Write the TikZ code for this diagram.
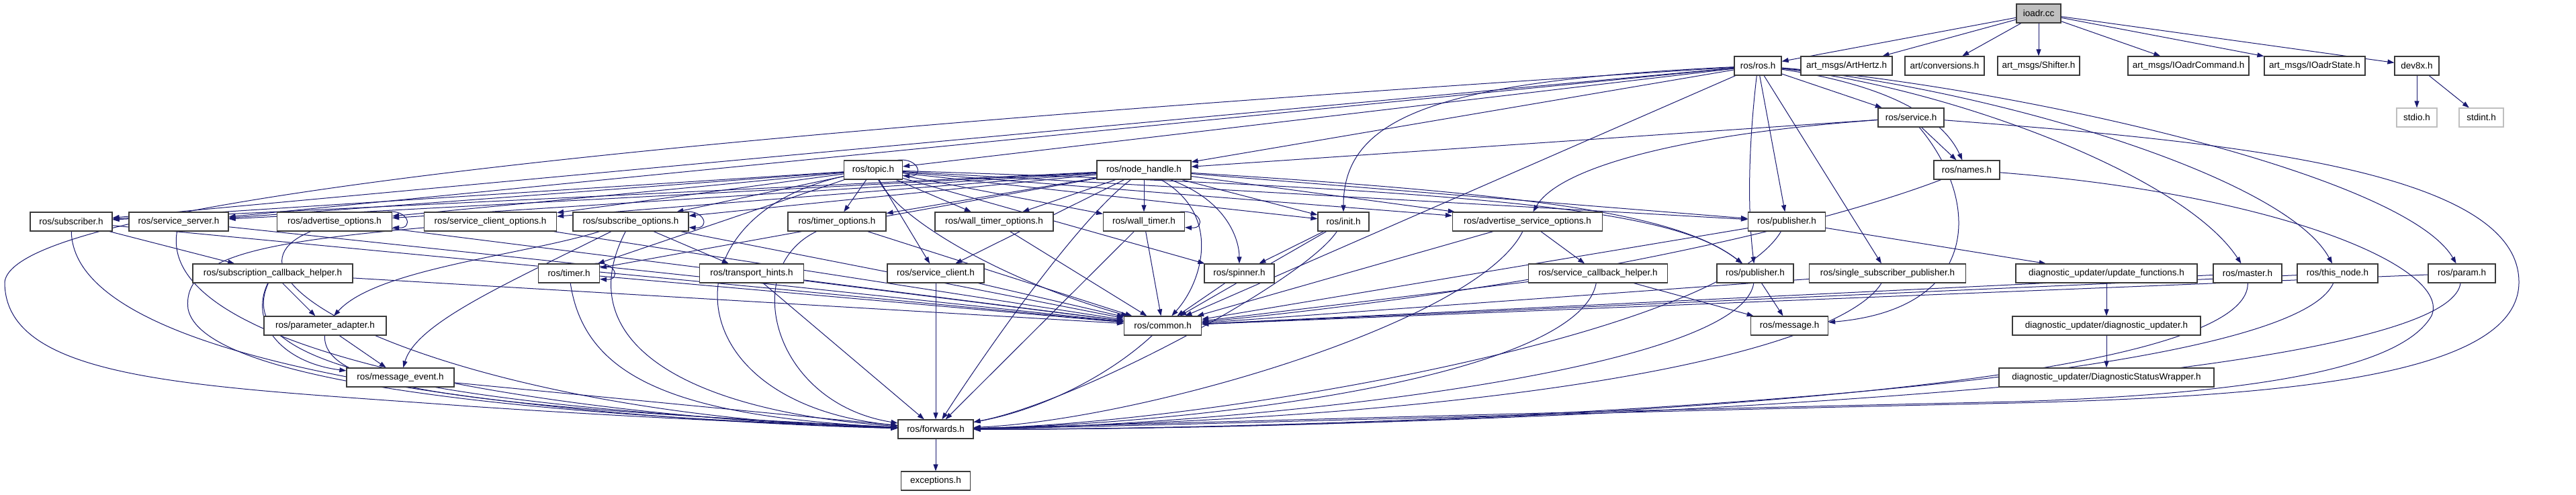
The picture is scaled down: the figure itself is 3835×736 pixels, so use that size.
\documentclass[tikz,border=0pt]{standalone}
\usepackage{fontspec}
\setmainfont{Liberation Sans}
\usetikzlibrary{arrows.meta}
\definecolor{edgec}{HTML}{191970}
\definecolor{bordc}{HTML}{3A3A3A}
\definecolor{titlec}{HTML}{BFBFBF}
\pgfdeclarelayer{bg}
\pgfsetlayers{bg,main}
\newcommand{\nfont}{\fontsize{13.5pt}{15pt}\selectfont}
\newcommand{\selfloop}[1]{\draw[edg] ([xshift=-8pt]#1.north east) .. controls +(32pt,4pt) and +(32pt,-2pt) .. ([yshift=6pt]#1.south east);}
\begin{document}
\begin{tikzpicture}[x=1pt,y=-1pt,
  nd/.style={draw=bordc, fill=white, line width=1.2pt, minimum height=28pt, inner sep=0pt, font=\nfont, text=black},
  edg/.style={draw=edgec, line width=1pt, -{Triangle[length=10pt,width=7pt]}}]
\useasboundingbox (0,0) rectangle (3835,736);
% nodes
\node[nd,minimum width=66pt,fill=titlec] (io) at (3035,20) {ioadr.cc};
\node[nd,minimum width=70pt] (ros) at (2617,98) {ros/ros.h};
\node[nd,minimum width=136pt] (arth) at (2749,98) {art\_msgs/ArtHertz.h};
\node[nd,minimum width=118pt] (conv) at (2895,98) {art/conversions.h};
\node[nd,minimum width=122pt] (shift) at (3035,98) {art\_msgs/Shifter.h};
\node[nd,minimum width=180pt] (iocmd) at (3258,98) {art\_msgs/IOadrCommand.h};
\node[nd,minimum width=150pt] (iost) at (3446,98) {art\_msgs/IOadrState.h};
\node[nd,minimum width=66pt] (dev) at (3598,98) {dev8x.h};
\node[nd,minimum width=98pt] (service) at (2845,175) {ros/service.h};
\node[nd,minimum width=60pt,draw=titlec] (stdio) at (3598,175) {stdio.h};
\node[nd,minimum width=66pt,draw=titlec] (stdint) at (3694,175) {stdint.h};
\node[nd,minimum width=87pt] (topic) at (1300,253) {ros/topic.h};
\node[nd,minimum width=140pt] (nh) at (1703,253) {ros/node\_handle.h};
\node[nd,minimum width=98pt] (names) at (2928,253) {ros/names.h};
\node[nd,minimum width=122pt] (subscr) at (106,330) {ros/subscriber.h};
\node[nd,minimum width=148pt] (srvsrv) at (266,330) {ros/service\_server.h};
\node[nd,minimum width=171pt] (advopt) at (498,330) {ros/advertise\_options.h};
\node[nd,minimum width=197pt] (scopt) at (730,330) {ros/service\_client\_options.h};
\node[nd,minimum width=172pt] (subopt) at (939,330) {ros/subscribe\_options.h};
\node[nd,minimum width=146pt] (tmopt) at (1246,330) {ros/timer\_options.h};
\node[nd,minimum width=176pt] (wtopt) at (1480,330) {ros/wall\_timer\_options.h};
\node[nd,minimum width=121pt] (wtimer) at (1703,330) {ros/wall\_timer.h};
\node[nd,minimum width=76pt] (init) at (2000,330) {ros/init.h};
\node[nd,minimum width=223pt] (asopt) at (2274,330) {ros/advertise\_service\_options.h};
\node[nd,minimum width=115pt] (pub1) at (2660,330) {ros/publisher.h};
\node[nd,minimum width=238pt] (subcb) at (406,407) {ros/subscription\_callback\_helper.h};
\node[nd,minimum width=91pt] (timer) at (847,407) {ros/timer.h};
\node[nd,minimum width=155pt] (thints) at (1119,407) {ros/transport\_hints.h};
\node[nd,minimum width=144pt] (sclient) at (1393,407) {ros/service\_client.h};
\node[nd,minimum width=104pt] (spinner) at (1845,407) {ros/spinner.h};
\node[nd,minimum width=207pt] (scbh) at (2379,407) {ros/service\_callback\_helper.h};
\node[nd,minimum width=114pt] (pub2) at (2613,407) {ros/publisher.h};
\node[nd,minimum width=233pt] (ssp) at (2810,407) {ros/single\_subscriber\_publisher.h};
\node[nd,minimum width=270pt] (updf) at (3136,407) {diagnostic\_updater/update\_functions.h};
\node[nd,minimum width=102pt] (master) at (3346,407) {ros/master.h};
\node[nd,minimum width=120pt] (thisn) at (3480,407) {ros/this\_node.h};
\node[nd,minimum width=100pt] (param) at (3665,407) {ros/param.h};
\node[nd,minimum width=182pt] (padapt) at (484,485) {ros/parameter\_adapter.h};
\node[nd,minimum width=115pt] (common) at (1731,485) {ros/common.h};
\node[nd,minimum width=115pt] (message) at (2664,485) {ros/message.h};
\node[nd,minimum width=280pt] (diagu) at (3136,485) {diagnostic\_updater/diagnostic\_updater.h};
\node[nd,minimum width=160pt] (mevent) at (596,562) {ros/message\_event.h};
\node[nd,minimum width=320pt] (dsw) at (3136,562) {diagnostic\_updater/DiagnosticStatusWrapper.h};
\node[nd,minimum width=112pt] (fwd) at (1393,639) {ros/forwards.h};
\node[nd,minimum width=103pt] (exc) at (1393,716) {exceptions.h};
\begin{pgfonlayer}{bg}
\fill[white] (0,0) rectangle (3835,736);
% ioadr.cc
\foreach \tg in {ros,arth,conv,shift,iocmd,iost,dev} \draw[edg] (io) -- (\tg);
\draw[edg] (dev) -- (stdio);
\draw[edg] (dev) -- (stdint);
% ros.h
\foreach \tg in {topic,nh,subscr,srvsrv,service,pub1,ssp,common} \draw[edg] (ros) -- (\tg);
\draw[edg] (ros) .. controls (2150,120) and (2000,170) .. (init);
\draw[edg] (ros) .. controls (2800,125) and (2890,170) .. (names);
\draw[edg] (ros) .. controls (2605,200) and (2600,300) .. (pub2);
\draw[edg] (ros) .. controls (2900,130) and (3250,260) .. (master);
\draw[edg] (ros) .. controls (2950,130) and (3400,260) .. (thisn);
\draw[edg] (ros) .. controls (3000,130) and (3580,260) .. (param);
\draw[edg] (ros) .. controls (1000,200) and (20,300) .. (7,420) .. controls (7,570) and (300,575) .. (700,605) .. controls (1000,625) and (1200,632) .. (fwd);
% service.h
\draw[edg] (service) -- (nh);
\draw[edg] (service) -- (names);
\draw[edg] (service) .. controls (2950,300) and (2950,460) .. (message);
\draw[edg] (service) .. controls (2500,200) and (2320,250) .. (asopt);
\draw[edg] (service) .. controls (3300,210) and (3750,250) .. (3750,420) .. controls (3750,560) and (3400,590) .. (3000,600) .. controls (2200,618) and (1700,635) .. (fwd);
% names.h
\draw[edg] (names) .. controls (2700,340) and (2300,430) .. (common);
\draw[edg] (names) .. controls (3400,290) and (3650,400) .. (3620,470) .. controls (3580,540) and (3400,585) .. (3000,598) .. controls (2200,616) and (1700,632) .. (fwd);
% node_handle.h
\foreach \tg in {subscr,srvsrv,advopt,scopt,subopt,tmopt,wtopt,wtimer,init,asopt,pub1,timer,sclient} \draw[edg] (nh) -- (\tg);
\draw[edg] (nh) .. controls (2300,290) and (2500,320) .. (pub2);
\draw[edg] (nh) .. controls (1830,300) and (1845,360) .. (spinner);
\draw[edg] (nh) .. controls (1820,320) and (1790,420) .. (common);
\draw[edg] (nh) .. controls (1600,330) and (1450,550) .. (fwd);
% topic.h
\foreach \tg in {subscr,srvsrv,advopt,scopt,subopt,tmopt,wtopt,wtimer,init,asopt,pub1,timer,sclient,spinner} \draw[edg] (topic) -- (\tg);
\draw[edg] (topic) .. controls (2300,285) and (2500,320) .. (pub2);
\draw[edg] (topic) .. controls (1340,330) and (1500,420) .. (common);
\draw[edg] (topic) .. controls (990,320) and (1000,600) .. (fwd);
\selfloop{topic}
% row 330
\draw[edg] (subscr) -- (subcb);
\draw[edg] (subscr) -- (common);
\draw[edg] (subscr) .. controls (110,590) and (1100,632) .. (fwd);
\draw[edg] (srvsrv) -- (common);
\draw[edg] (srvsrv) .. controls (230,540) and (900,625) .. (fwd);
\draw[edg] (advopt) -- (common);
\draw[edg] (advopt) .. controls (280,420) and (700,620) .. (fwd);
\selfloop{advopt}
\draw[edg] (scopt) -- (common);
\draw[edg] (scopt) .. controls (400,360) and (270,380) .. (280,460) .. controls (300,560) and (700,615) .. (fwd);
\draw[edg] (subopt) -- (thints);
\draw[edg] (subopt) .. controls (780,380) and (560,400) .. (padapt);
\draw[edg] (subopt) .. controls (760,420) and (620,480) .. (mevent);
\draw[edg] (subopt) -- (common);
\draw[edg] (subopt) .. controls (850,500) and (1000,610) .. (fwd);
\selfloop{subopt}
\draw[edg] (tmopt) -- (common);
\draw[edg] (tmopt) .. controls (1100,400) and (1150,600) .. (fwd);
\draw[edg] (wtopt) -- (common);
\draw[edg] (wtimer) -- (common);
\draw[edg] (wtimer) -- (fwd);
\selfloop{wtimer}
\draw[edg] (init) -- (common);
\draw[edg] (init) -- (spinner);
\draw[edg] (init) .. controls (1940,420) and (1600,600) .. (fwd);
\draw[edg] (asopt) -- (scbh);
\draw[edg] (asopt) -- (common);
\draw[edg] (asopt) .. controls (2200,480) and (1700,625) .. (fwd);
\draw[edg] (pub1) -- (updf);
\draw[edg] (pub1) -- (common);
\draw[edg] (pub1) .. controls (2560,500) and (1800,630) .. (fwd);
% row 407
\draw[edg] (subcb) -- (padapt);
\draw[edg] (subcb) .. controls (370,480) and (420,540) .. (mevent);
\draw[edg] (subcb) -- (common);
\draw[edg] (subcb) .. controls (355,520) and (500,600) .. (fwd);
\draw[edg] (timer) -- (common);
\draw[edg] (timer) .. controls (870,560) and (1000,620) .. (fwd);
\selfloop{timer}
\draw[edg] (thints) -- (common);
\draw[edg] (thints) -- (fwd);
\draw[edg] (sclient) -- (common);
\draw[edg] (sclient) -- (fwd);
\draw[edg] (spinner) -- (common);
\draw[edg] (scbh) -- (message);
\draw[edg] (scbh) -- (common);
\draw[edg] (scbh) .. controls (2350,560) and (1800,630) .. (fwd);
\draw[edg] (pub2) -- (message);
\draw[edg] (pub2) .. controls (2590,560) and (1800,635) .. (fwd);
\draw[edg] (ssp) -- (common);
\draw[edg] (ssp) .. controls (2740,520) and (2300,620) .. (fwd);
\draw[edg] (updf) -- (diagu);
\draw[edg] (diagu) -- (dsw);
\draw[edg] (master) -- (common);
\draw[edg] (master) .. controls (3350,600) and (2000,640) .. (fwd);
\draw[edg] (thisn) -- (common);
\draw[edg] (thisn) .. controls (3400,590) and (2000,640) .. (fwd);
\draw[edg] (param) -- (common);
\draw[edg] (param) .. controls (3640,590) and (2000,640) .. (fwd);
% row 485 and below
\draw[edg] (padapt) -- (mevent);
\draw[edg] (padapt) .. controls (480,580) and (700,605) .. (fwd);
\draw[edg] (common) .. controls (1650,560) and (1550,610) .. (fwd);
\draw[edg] (mevent) -- (fwd);
\draw[edg] (fwd) -- (exc);
\end{pgfonlayer}
\end{tikzpicture}
\end{document}
